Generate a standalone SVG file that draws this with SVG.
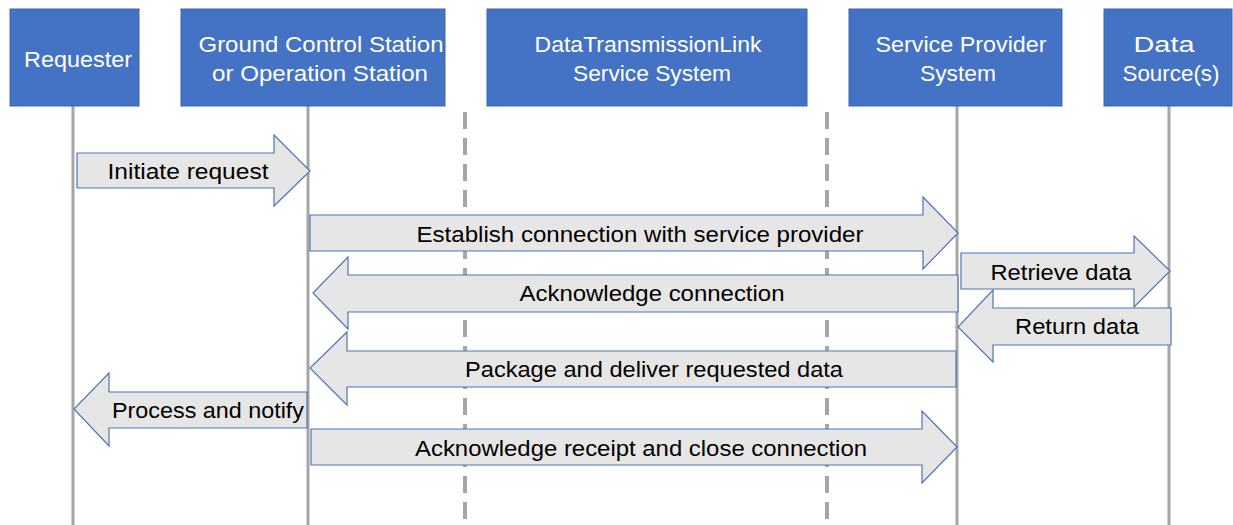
<svg xmlns="http://www.w3.org/2000/svg" width="1233" height="525" viewBox="0 0 1233 525">
<style>
.box{fill:#4472c4;stroke:#3a66b5;stroke-width:1}
.ht{fill:#ffffff;font-family:"Liberation Sans",Arial,sans-serif;font-size:22px;text-anchor:middle}
.life{stroke:#a6a6a6;stroke-width:3;fill:none}
.dash{stroke:#a6a6a6;stroke-width:4;stroke-dasharray:17 9;fill:none}
.arr{fill:#e7e6e6;stroke:#4f74b8;stroke-width:1.2}
.at{fill:#000000;font-family:"Liberation Sans",Arial,sans-serif;font-size:22px;text-anchor:middle}
</style>
<rect width="1233" height="525" fill="#ffffff"/>
<g id="lifelines">
<line class="life" x1="73" y1="106" x2="73" y2="525"/>
<line class="life" x1="308" y1="106" x2="308" y2="525"/>
<line class="life" x1="957" y1="106" x2="957" y2="525"/>
<line class="life" x1="1169" y1="106" x2="1169" y2="525"/>
<line class="dash" x1="465" y1="112" x2="465" y2="525"/>
<line class="dash" x1="827" y1="112" x2="827" y2="525"/>
</g>
<g id="requester">
<rect class="box" x="10" y="9" width="129" height="97"/>
<text class="ht" x="78" y="67" textLength="108" lengthAdjust="spacingAndGlyphs">Requester</text>
</g>
<g id="gcs">
<rect class="box" x="181" y="9" width="264" height="97"/>
<text class="ht" x="321" y="52" textLength="245" lengthAdjust="spacingAndGlyphs">Ground Control Station</text>
<text class="ht" x="320" y="81" textLength="216" lengthAdjust="spacingAndGlyphs">or Operation Station</text>
</g>
<g id="dtl">
<rect class="box" x="487" y="9" width="320" height="97"/>
<text class="ht" x="648" y="52" textLength="227" lengthAdjust="spacingAndGlyphs">DataTransmissionLink</text>
<text class="ht" x="652" y="81" textLength="158" lengthAdjust="spacingAndGlyphs">Service System</text>
</g>
<g id="provider">
<rect class="box" x="849" y="9" width="213" height="97"/>
<text class="ht" x="961" y="52" textLength="171" lengthAdjust="spacingAndGlyphs">Service Provider</text>
<text class="ht" x="958" y="81" textLength="76" lengthAdjust="spacingAndGlyphs">System</text>
</g>
<g id="datasource">
<rect class="box" x="1104" y="9" width="128" height="97"/>
<text class="ht" x="1164" y="52" textLength="61" lengthAdjust="spacingAndGlyphs">Data</text>
<text class="ht" x="1171" y="81" textLength="97" lengthAdjust="spacingAndGlyphs">Source(s)</text>
</g>
<g id="connectors">
<g id="m1">
<path class="arr" d="M77,153 H274 V135 L310,171 L274,206 V188 H77 Z"/>
<text class="at" x="188" y="179" textLength="161" lengthAdjust="spacingAndGlyphs">Initiate request</text>
</g>
<g id="m2">
<path class="arr" d="M310,215 H923 V197 L958,233 L923,269 V251 H310 Z"/>
<text class="at" x="640" y="242" textLength="447" lengthAdjust="spacingAndGlyphs">Establish connection with service provider</text>
</g>
<g id="m3">
<path class="arr" d="M958,275 H348 V257 L313,293 L348,329 V312 H958 Z"/>
<text class="at" x="652" y="301" textLength="265" lengthAdjust="spacingAndGlyphs">Acknowledge connection</text>
</g>
<g id="m4">
<path class="arr" d="M961,253 H1134 V236 L1170,271 L1134,307 V289 H961 Z"/>
<text class="at" x="1061" y="280" textLength="141" lengthAdjust="spacingAndGlyphs">Retrieve data</text>
</g>
<g id="m5">
<path class="arr" d="M1171,308 H993 V290 L958,327 L993,362 V345 H1171 Z"/>
<text class="at" x="1077" y="334" textLength="124" lengthAdjust="spacingAndGlyphs">Return data</text>
</g>
<g id="m6">
<path class="arr" d="M956,351 H347 V332 L310,368 L347,405 V387 H956 Z"/>
<text class="at" x="654" y="377" textLength="378" lengthAdjust="spacingAndGlyphs">Package and deliver requested data</text>
</g>
<g id="m7">
<path class="arr" d="M307,392 H109 V373 L74,409 L109,446 V428 H307 Z"/>
<text class="at" x="208" y="418" textLength="192" lengthAdjust="spacingAndGlyphs">Process and notify</text>
</g>
<g id="m8">
<path class="arr" d="M311,429 H922 V411 L957,447 L922,483 V465 H311 Z"/>
<text class="at" x="641" y="456" textLength="452" lengthAdjust="spacingAndGlyphs">Acknowledge receipt and close connection</text>
</g>
</g>
</svg>
